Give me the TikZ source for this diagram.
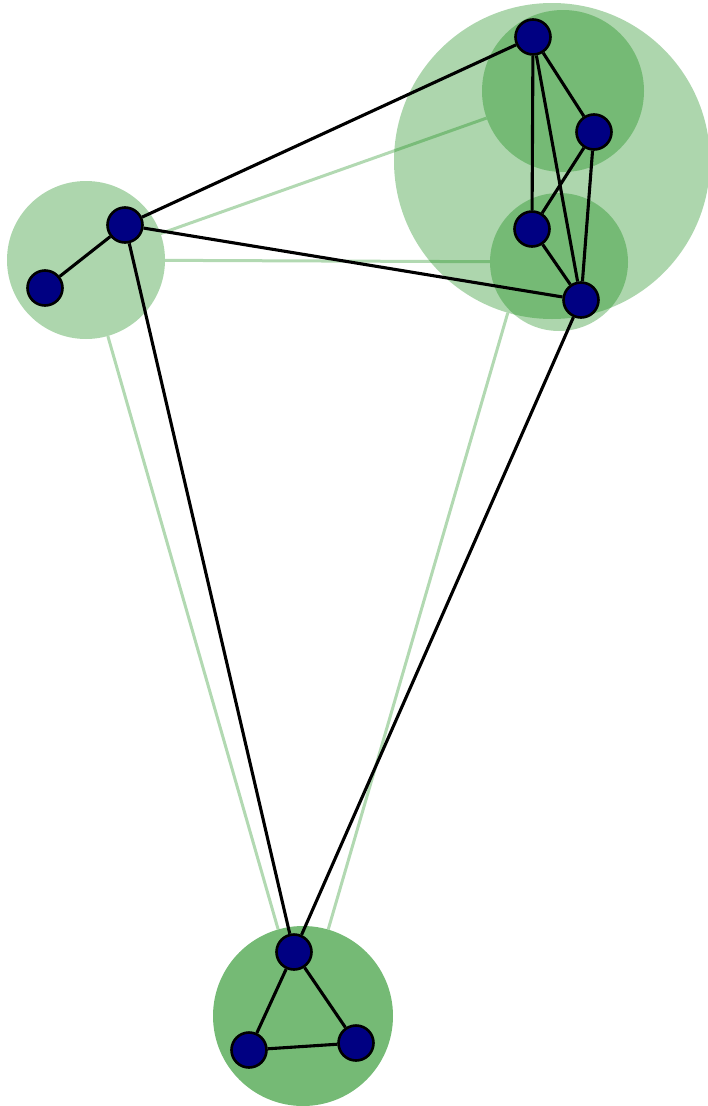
\documentclass[tikz,border=0pt]{standalone}
\usepackage{xcolor}
\usepackage{tikz}
\usetikzlibrary{positioning}
\definecolor{leaf}{RGB}{0,128,0}
\definecolor{navyv}{RGB}{0,0,130}

\begin{document}
\begin{tikzpicture}[x=1pt, y=-1pt,
  clu/.style={circle, inner sep=0pt, fill=leaf, fill opacity=0.32},
  clutwo/.style={clu, fill opacity=0.54},
  tie/.style={draw=leaf, draw opacity=0.3, line width=3pt},
  link/.style={draw, black, line width=3.1pt},
  vtx/.style={circle, draw, line width=2.6pt, fill=navyv, minimum size=35pt, inner sep=0pt}]
\useasboundingbox (0,0) rectangle (708,1106);
% clusters
\node[clu, minimum size=158pt] (kl) at (86,260) {};
\node[clu, minimum size=316pt] (kr) at (552,161) {};
\node[clu, minimum size=162pt] (kc) at (563,91) {};
\node[clu, minimum size=138pt] (kf) at (559,262) {};
\node[clutwo, minimum size=180pt] (kb) at (303,1016) {};
% links between clusters
\draw[tie] (kl) -- (kc);
\draw[tie] (kl) -- (kf);
\draw[tie] (kl) -- (kb);
\draw[tie] (kr) -- (kb);
% vertices
\node[vtx] (a) at (125,225) {};
\node[vtx] (b) at (45,288) {};
\node[vtx] (c) at (533,37) {};
\node[vtx] (d) at (594,132) {};
\node[vtx] (e) at (532,229) {};
\node[vtx] (f) at (581,300) {};
\node[vtx] (g) at (294,952) {};
\node[vtx] (h) at (249,1050) {};
\node[vtx] (i) at (356,1043) {};
% edges
\foreach \u/\v in {a/b, a/c, a/f, a/g, c/d, c/e, c/f, d/e, d/f, e/f, f/g, g/h, g/i, h/i}
  \draw[link] (\u) -- (\v);
\end{tikzpicture}
\end{document}
